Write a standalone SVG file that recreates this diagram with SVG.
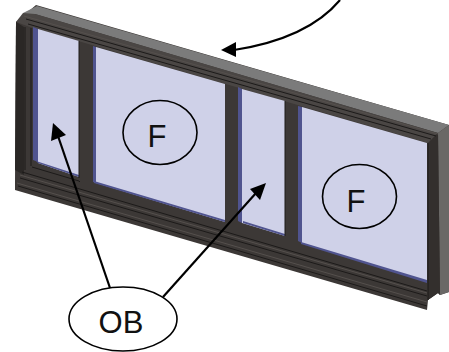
<svg xmlns="http://www.w3.org/2000/svg" width="449" height="352" viewBox="0 0 449 352">
<style>
.glass{fill:#cfd1e8}
.blue{fill:#50548f}
.frame{fill:#3c3836}
.dk{fill:#2a2725}
.ln{fill:none;stroke:#1c1a19;stroke-width:1}
.mid{fill:none;stroke:#55504d;stroke-width:1}
.conn{fill:none;stroke:#000;stroke-width:2.2}
.head{fill:#000}
.bub{fill:none;stroke:#000;stroke-width:1.6}
.lab{font-family:"Liberation Sans",Arial,sans-serif;font-size:31px;fill:#111;text-anchor:middle}
</style>
<g id="window">
<polygon class="frame" points="16,22 36,5 449,125 449,292 440,295 438,293 428,300 427,310 15,190 15,182"/>
<polygon points="37,6 23,13 26,16 35,14 438,133 449,125" fill="#7b7b7b"/>
<polygon points="23,13 16,22 30,27 428,143 438,133 35,14" fill="#4a4644"/>
<polygon points="438,133 449,125 449,292 440,295" fill="#6a6866"/>
<polygon points="428,143 438,133 440,295 438,293 428,300" fill="#332f2d"/>
<polyline class="ln" points="26,19 436,136"/>
<polyline class="ln" points="28,24 431,139"/>
<polyline class="mid" points="24,16 438,134"/>
<polygon class="dk" points="16,22 24,27 24,175 15,170"/>
<line class="ln" x1="25" y1="27" x2="25" y2="170"/>
<line class="ln" x1="31" y1="28" x2="31" y2="166"/>
<polygon class="blue" points="33,27 38,29 38,162 33,160"/>
<polygon class="blue" points="93,46 96,47 96,183 93,182"/>
<polygon class="blue" points="238,87 242,89 242,223 238,221"/>
<polygon class="blue" points="298,106 302,107 302,243 298,241"/>
<polygon class="glass" points="38,29 79,41 79,177 38,163"/>
<polygon class="glass" points="96,47 225,84 225,222 96,183"/>
<polygon class="glass" points="242,89 285,101 285,236 242,223"/>
<polygon class="glass" points="302,107 427,143 427,282 302,243"/>
<polygon class="blue" points="36,161 79,175 79,177 38,163"/>
<polygon class="blue" points="94,181 225,220 225,222 94,183"/>
<polygon class="blue" points="243,221 285,234 285,236 243,223"/>
<polygon class="blue" points="301,242 427,280 427,283 301,244"/>
<polyline class="ln" points="32,167 79,181 80,182"/>
<polyline class="ln" points="22,172 427,291"/>
<polyline class="ln" points="20,178 427,296"/>
<polyline class="ln" points="18,186 427,306"/>
<polyline class="mid" points="20,175 427,293"/>
<polyline class="mid" points="17,183 427,302"/>
<line class="ln" x1="79" y1="41" x2="79" y2="178"/>
<line class="ln" x1="285" y1="101" x2="285" y2="236"/>
<line class="ln" x1="428" y1="143" x2="428" y2="300"/>
</g>
<g id="connectors">
<path class="conn" d="M340,0C320,24 285,42 234,50"/>
<polygon class="head" points="221,50 236,42 236,57"/>
<line class="conn" x1="110" y1="288" x2="58" y2="136"/>
<polygon class="head" points="53,123 51,141 66,135"/>
<line class="conn" x1="163" y1="297" x2="256" y2="193"/>
<polygon class="head" points="266,183 250,189 260,200"/>
</g>
<g id="node-f1"><ellipse class="bub" cx="160" cy="132.500" rx="37" ry="32"/><text class="lab" x="157" y="147">F</text></g>
<g id="node-f2"><ellipse class="bub" cx="359.500" cy="196.500" rx="37" ry="32"/><text class="lab" x="356" y="212">F</text></g>
<g id="node-ob"><ellipse class="bub" cx="123" cy="319" rx="54" ry="32"/><text class="lab" x="121" y="333">OB</text></g>
</svg>
